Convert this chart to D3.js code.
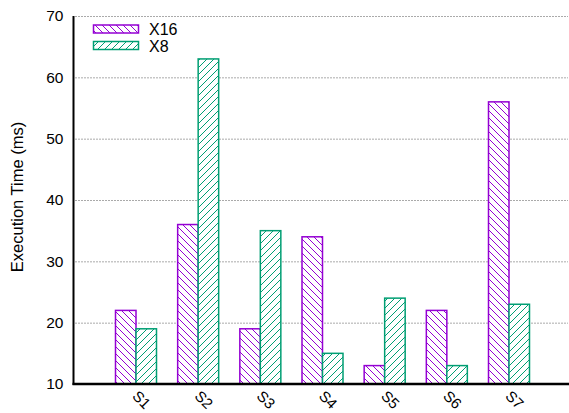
<!DOCTYPE html>
<html>
<head>
<meta charset="utf-8">
<script src="https://cdn.jsdelivr.net/npm/d3@7"></script>
<style>
  html, body { margin: 0; padding: 0; background: #fff; }
  svg { display: block; font-family: "Liberation Sans", Arial, Helvetica, sans-serif; }
</style>
</head>
<body>
<svg id="chart" width="569" height="413"></svg>
<script>
// Execution time per stage, for the X16 and X8 configurations
const categories = ["S1", "S2", "S3", "S4", "S5", "S6", "S7"];
const seriesNames = ["X16", "X8"];
const x16Values = [22, 36, 19, 34, 13, 22, 56];
const x8Values = [19, 63, 35, 15, 24, 13, 23];
const yTicks = [10, 20, 30, 40, 50, 60, 70];
const yLabel = "Execution Time (ms)";

const colors = { X16: "#9400d3", X8: "#009e73" };
const seriesValues = { X16: x16Values, X8: x8Values };

const svg = d3.select("#chart");
const W = 569, H = 413;
const plotLeft = 73.5, plotTop = 16, plotBottom = 384;

// hatch patterns: "\\" for X16, "//" for X8
const defs = svg.append("defs");
function hatch(id, color, dir) {
  const s = 7;
  const p = defs.append("pattern")
    .attr("id", id).attr("patternUnits", "userSpaceOnUse")
    .attr("width", s).attr("height", s);
  p.append("rect").attr("width", s).attr("height", s).attr("fill", "#fff");
  const paths = dir === "back"
    ? `M0,0 L${s},${s} M${-s},0 L${s},${2*s} M0,${-s} L${2*s},${s}`
    : `M0,${s} L${s},0 M${-s},${s} L${s},${-s} M0,${2*s} L${2*s},0`;
  p.append("path").attr("d", paths).attr("stroke", color).attr("stroke-width", 1);
}
hatch("hatch-X16", colors.X16, "back");
hatch("hatch-X8", colors.X8, "fwd");

const y = d3.scaleLinear().domain([10, 70]).range([plotBottom, plotTop]);
const x = d3.scalePoint().domain(categories).range([136, 509]);
const sub = d3.scaleBand().domain(seriesNames).range([-20.5, 20.5]);

// dotted grid lines
svg.append("g")
  .selectAll("line")
  .data(yTicks.filter(t => t > 10))
  .join("line")
  .attr("x1", plotLeft + 2).attr("x2", W - 1)
  .attr("y1", d => y(d) + 0.5).attr("y2", d => y(d) + 0.5)
  .attr("stroke", "#555").attr("stroke-width", 1)
  .attr("stroke-dasharray", "1,2");

// bars
seriesNames.forEach(name => {
  svg.append("g")
    .selectAll("rect")
    .data(categories.map((c, i) => ({ c, v: seriesValues[name][i] })))
    .join("rect")
    .attr("x", d => x(d.c) + sub(name))
    .attr("y", d => y(d.v))
    .attr("width", sub.bandwidth())
    .attr("height", d => plotBottom - y(d.v))
    .attr("fill", `url(#hatch-${name})`)
    .attr("stroke", colors[name])
    .attr("stroke-width", 1.5);
});

// y axis
const yAxis = d3.axisLeft(y).tickValues(yTicks).tickSize(0).tickPadding(10);
const gy = svg.append("g").attr("transform", `translate(${plotLeft},0)`).call(yAxis);
gy.select(".domain").remove();
gy.selectAll("text").attr("font-size", 15.5).attr("fill", "#000")
  .attr("font-family", "Liberation Sans, Arial, sans-serif");

// x axis
const xAxis = d3.axisBottom(x).tickSize(0).tickPadding(0);
const gx = svg.append("g").attr("transform", `translate(0,${plotBottom})`).call(xAxis);
gx.select(".domain").remove();
gx.selectAll("text")
  .attr("font-size", 15).attr("fill", "#000")
  .attr("font-family", "Liberation Sans, Arial, sans-serif")
  .attr("text-anchor", "start")
  .attr("dy", null).attr("y", 0)
  .attr("transform", "translate(-5,13) rotate(45)");

// axis lines
svg.append("line").attr("x1", plotLeft).attr("x2", plotLeft).attr("y1", plotTop).attr("y2", plotBottom + 1)
  .attr("stroke", "#000").attr("stroke-width", 2);
svg.append("line").attr("x1", plotLeft - 1).attr("x2", W).attr("y1", plotBottom).attr("y2", plotBottom)
  .attr("stroke", "#000").attr("stroke-width", 2.5);

// y axis title
svg.append("text")
  .attr("transform", `translate(23,197) rotate(-90)`)
  .attr("text-anchor", "middle").attr("font-size", 16.5).attr("fill", "#000")
  .text(yLabel);

// legend
const legend = svg.append("g");
seriesNames.forEach((name, i) => {
  const ly = 25 + i * 16.5;
  legend.append("rect")
    .attr("x", 93.5).attr("y", ly).attr("width", 45).attr("height", 8)
    .attr("fill", `url(#hatch-${name})`).attr("stroke", colors[name]).attr("stroke-width", 1.5);
  legend.append("text")
    .attr("x", 149).attr("y", ly + 10)
    .attr("font-size", 16).attr("fill", "#000")
    .text(name);
});
</script>
</body>
</html>
